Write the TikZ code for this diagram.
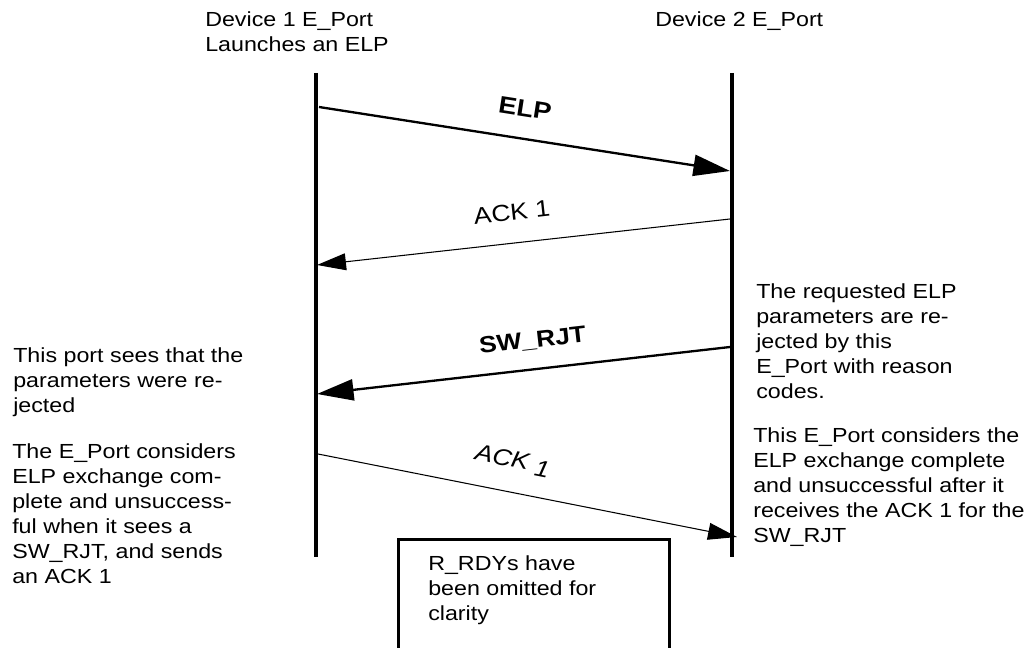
\documentclass[tikz,border=0pt]{standalone}
\usepackage{fontspec}
\setmainfont[FakeStretch=1.14]{Liberation Sans}
\usetikzlibrary{arrows.meta,positioning}

\tikzset{
  lifeline/.style={line width=2.2pt},
  msgbold/.style={line width=1.65pt, -{Triangle[length=26pt,width=15pt]}},
  msgthin/.style={line width=0.75pt, -{Triangle[length=20.6pt,width=12pt]}},
  txt/.style={anchor=north west, inner sep=0pt, align=left,
    font=\fontsize{14.5pt}{17.8pt}\selectfont},
  msglabel/.style={sloped, inner sep=0pt, font=\fontsize{16.5pt}{19pt}\selectfont},
  notebox/.style={draw, line width=2.4pt, anchor=north west,
    minimum width=6.775cm, minimum height=4cm}
}

\begin{document}
\begin{tikzpicture}[x=0.025cm, y=-0.025cm]
    \useasboundingbox (0,0) rectangle (1035,648);
    \clip (0,0) rectangle (1035,648);

    % Headers
    \node[txt] (hdr1) at (205,11) {Device 1 E\_Port\\Launches an ELP};
    \node[txt] (hdr2) at (655,11) {Device 2 E\_Port};

    % Lifelines
    \coordinate (d1top) at (316,73);
    \coordinate (d1bot) at (316,557);
    \coordinate (d2top) at (732,73);
    \coordinate (d2bot) at (732,557);
    \draw[lifeline] (d1top) -- (d1bot);
    \draw[lifeline] (d2top) -- (d2bot);

    % Message end points
    \coordinate (elpA) at (319,107);
    \coordinate (elpB) at (730,171);
    \coordinate (ackA) at (730,219);
    \coordinate (ackB) at (317,265);
    \coordinate (rjtA) at (730,347);
    \coordinate (rjtB) at (317,394);
    \coordinate (ack2A) at (318,454);
    \coordinate (ack2B) at (737,537);

    % Messages
    \draw[msgbold] (elpA) -- node[msglabel, above=0.52cm, pos=0.49, font=\fontsize{17pt}{19pt}\selectfont] {\textbf{ELP}} (elpB);
    \draw[msgthin] (ackA) -- node[msglabel, above=0.55cm, pos=0.52] {ACK 1} (ackB);
    \draw[msgbold] (rjtA) -- node[msglabel, above=0.44cm, pos=0.47] {\textbf{SW\_RJT}} (rjtB);
    \draw[msgthin] (ack2A) -- node[msglabel, above=0.5cm, pos=0.45] {\textit{ACK\hspace{0.3em}\raisebox{-0.35ex}{1}}} (ack2B);

    % Side notes
    \node[txt] (left1) at (13,347) {This port sees that the\\parameters were re-\\jected};
    \node[txt] (left2) at (12,443) {The E\_Port considers\\ELP exchange com-\\plete and unsuccess-\\ful when it sees a\\SW\_RJT, and sends\\an ACK 1};
    \node[txt] (right1) at (756,283) {The requested ELP\\parameters are re-\\jected by this\\E\_Port with reason\\codes.};
    \node[txt] (right2) at (753,427) {This E\_Port considers the\\ELP exchange complete\\and unsuccessful after it\\receives the ACK 1 for the\\SW\_RJT};

    % Note box
    \node[notebox] (box) at (397,538) {};
    \node[txt, below right=0.425cm and 0.775cm of box.north west] (note) {R\_RDYs have\\been omitted for\\clarity};
\end{tikzpicture}
\end{document}
